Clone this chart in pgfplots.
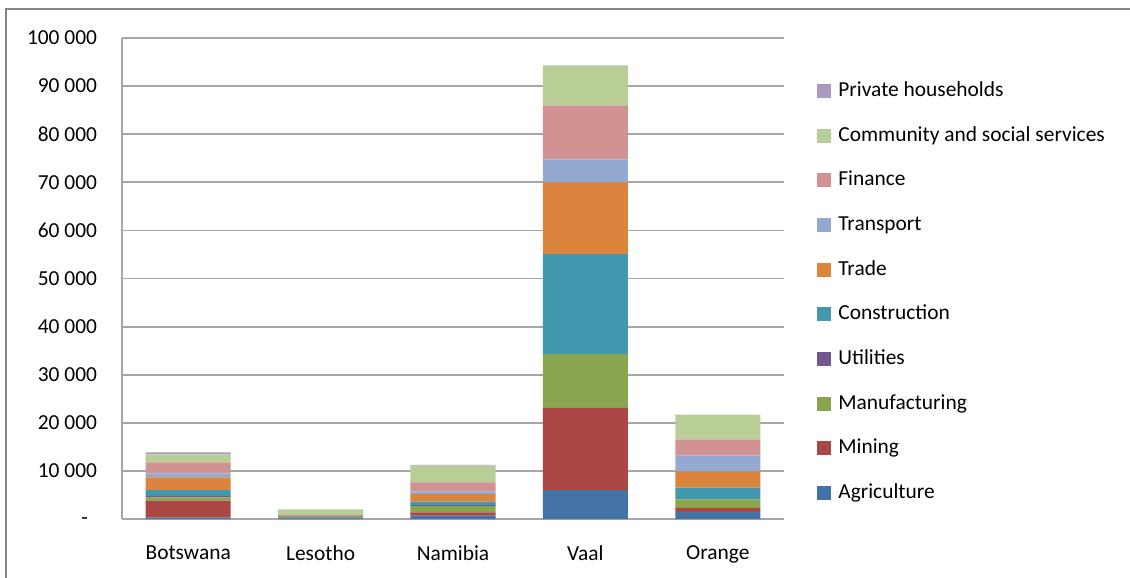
\documentclass[border=0pt]{standalone}
\usepackage{fontspec}
\setmainfont{Carlito}
\usepackage{pgfplots}
\pgfplotsset{compat=1.18}
\definecolor{cAgr}{HTML}{4572A7}
\definecolor{cMin}{HTML}{AA4643}
\definecolor{cMan}{HTML}{89A54E}
\definecolor{cUti}{HTML}{71588F}
\definecolor{cCon}{HTML}{4198AF}
\definecolor{cTra}{HTML}{DB843D}
\definecolor{cTrn}{HTML}{93A9CF}
\definecolor{cFin}{HTML}{D19392}
\definecolor{cCom}{HTML}{B9CD96}
\definecolor{cPri}{HTML}{A99BBD}
\definecolor{gridc}{HTML}{A6A6A6}
\definecolor{framec}{HTML}{868686}
\begin{document}
\begin{tikzpicture}[font=\fontsize{10.7bp}{13bp}\selectfont]
\path[use as bounding box] (0,0) rectangle (565bp,-289bp);
\draw[framec, line width=1.1bp] (3bp,-289bp) -- (3bp,-4.5bp) -- (565bp,-4.5bp);
\begin{axis}[
  at={(61bp,-259.5bp)}, anchor=south west,
  scale only axis, width=331bp, height=240.5bp,
  ybar stacked, bar width=42.5bp,
  xmin=-0.5, xmax=4.5, ymin=0, ymax=100000,
  xtick={0,1,2,3,4},
  xticklabels={Botswana,Lesotho,Namibia,Vaal,Orange},
  ytick={0,10000,20000,30000,40000,50000,60000,70000,80000,90000,100000},
  yticklabels={\mbox{-\kern4.5bp\strut},10 000,20 000,30 000,40 000,50 000,60 000,70 000,80 000,90 000,100 000},
  scaled y ticks=false,
  major tick length=0pt,
  ymajorgrids, grid style={gridc, line width=0.9bp},
  axis x line*=bottom, axis y line*=left,
  axis line style={gridc, line width=0.9bp},
  x axis line style={-}, y axis line style={-},
  yticklabel style={anchor=east, xshift=-9bp},
  xticklabel style={anchor=north, yshift=-10bp},
  reverse legend,
  legend cell align=left,
  legend style={draw=none, fill=none, at={(1.0408,0.472)}, anchor=west,
    row sep=4.85bp,
    nodes={text height=8bp, text depth=2.5bp, inner sep=3.5bp},
    /tikz/every odd column/.append style={column sep=0bp}},
  legend image code/.code={\fill[#1] (0bp,-3.5bp) rectangle (7bp,3.5bp);},
]
\addplot+[fill=cAgr, draw=none] coordinates {(0,280) (1,150) (2,690) (3,6030) (4,1460)};
\addlegendentry{Agriculture}
\addplot+[fill=cMin, draw=none] coordinates {(0,3530) (1,50) (2,700) (3,17050) (4,830)};
\addlegendentry{Mining}
\addplot+[fill=cMan, draw=none] coordinates {(0,700) (1,250) (2,1310) (3,11220) (4,1800)};
\addlegendentry{Manufacturing}
\addplot+[fill=cUti, draw=none] coordinates {(0,300) (1,20) (2,200) (3,0) (4,0)};
\addlegendentry{Utilities}
\addplot+[fill=cCon, draw=none] coordinates {(0,1220) (1,200) (2,690) (3,20790) (4,2430)};
\addlegendentry{Construction}
\addplot+[fill=cTra, draw=none] coordinates {(0,2640) (1,100) (2,1600) (3,14910) (4,3400)};
\addlegendentry{Trade}
\addplot+[fill=cTrn, draw=none] coordinates {(0,830) (1,100) (2,480) (3,4780) (4,3250)};
\addlegendentry{Transport}
\addplot+[fill=cFin, draw=none] coordinates {(0,2290) (1,100) (2,1950) (3,11230) (4,3390)};
\addlegendentry{Finance}
\addplot+[fill=cCom, draw=none] coordinates {(0,1660) (1,1040) (2,3460) (3,8310) (4,5130)};
\addlegendentry{Community and social services}
\addplot+[fill=cPri, draw=none] coordinates {(0,420) (1,0) (2,200) (3,0) (4,0)};
\addlegendentry{Private households}
\end{axis}
\end{tikzpicture}
\end{document}
